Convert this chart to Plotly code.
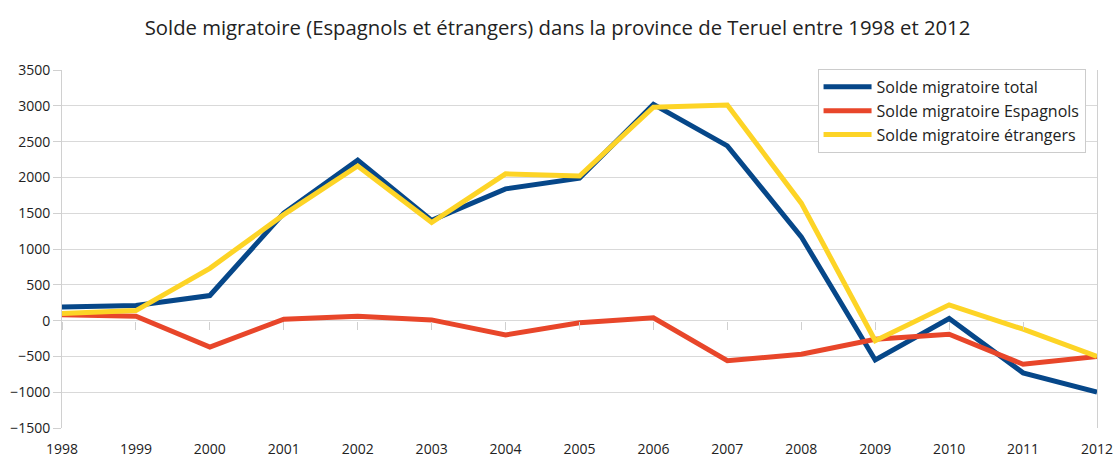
import plotly.graph_objects as go

years = list(range(1998, 2013))
total = [190, 210, 350, 1500, 2240, 1400, 1840, 1990, 3020, 2440, 1170, -550, 30, -730, -1000]
espagnols = [80, 60, -370, 20, 60, 10, -200, -30, 40, -560, -470, -260, -190, -610, -500]
etrangers = [100, 140, 730, 1480, 2160, 1370, 2050, 2020, 2980, 3010, 1640, -280, 220, -120, -500]

names = ["Solde migratoire total", "Solde migratoire Espagnols", "Solde migratoire étrangers"]
colors = ["#064789", "#e8462a", "#fdd426"]
series = [total, espagnols, etrangers]

fig = go.Figure()
for name, vals, col in zip(names, series, colors):
    fig.add_trace(go.Scatter(x=years, y=vals, name=name, mode="lines",
                             line=dict(color=col, width=5)))

# invisible trace to carry the axis drawn at y=0 (tick marks only)
fig.add_trace(go.Scatter(x=years, y=[0] * len(years), xaxis="x2", mode="lines",
                         line=dict(width=0), showlegend=False, hoverinfo="skip"))

yr = [-1500, 3500]
fig.update_layout(
    width=1115, height=459,
    margin=dict(l=62, r=18, t=70, b=31, autoexpand=False),
    paper_bgcolor="white", plot_bgcolor="white",
    font=dict(family="Open Sans, sans-serif", color="#222222"),
    title=dict(text="Solde migratoire (Espagnols et étrangers) dans la province de Teruel entre 1998 et 2012",
               x=0.5, xanchor="center", y=1 - 28 / 459, yref="container", yanchor="middle",
               font=dict(size=20.3, color="#222222")),
    xaxis=dict(range=[1998, 2012], tickvals=years, ticktext=[str(y) for y in years],
               showgrid=False, zeroline=False, showline=False,
               ticks="outside", ticklen=8, tickcolor="rgba(0,0,0,0)",
               tickfont=dict(size=14)),
    xaxis2=dict(range=[1998, 2012], overlaying="x", anchor="free",
                position=(0 - yr[0]) / (yr[1] - yr[0]),
                tickvals=years, showticklabels=False, showgrid=False,
                zeroline=False, showline=False,
                ticks="outside", ticklen=8, tickcolor="#d0d0d0", tickwidth=1),
    yaxis=dict(range=yr, dtick=500, showgrid=True, gridcolor="#d9d9d9", gridwidth=1,
               zeroline=False, showline=True, linecolor="#d0d0d0", linewidth=1, mirror=True,
               ticks="outside", ticklen=8, tickcolor="#d0d0d0",
               tickfont=dict(size=14)),
    legend=dict(x=0.730, y=1.003, xanchor="left", yanchor="top",
                bordercolor="#cccccc", borderwidth=1, bgcolor="white",
                itemwidth=48,
                font=dict(size=16, color="#222222")),
)

fig.write_html("out.html", config={"displayModeBar": False},
               post_script="document.body.style.margin='0';")
